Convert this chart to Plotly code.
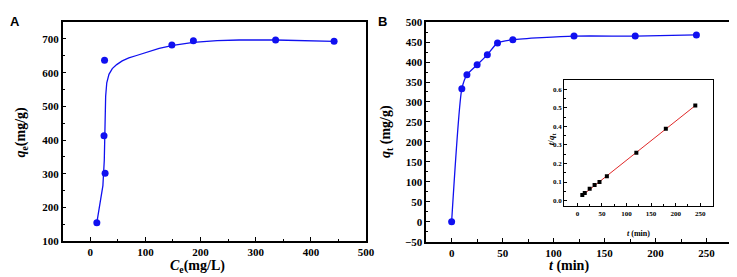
import plotly.graph_objects as go

W, H = 737, 277

# Panel A: adsorption isotherm
ce_points = [12, 25, 27, 26, 148, 187, 336, 442]
qe_points = [155, 413, 302, 637, 682, 695, 697, 693]
ce_fit = [12, 18, 23, 25.5, 26.5, 27, 28, 30, 34, 40, 48, 58, 70, 84, 100, 125, 150, 187, 230, 270, 336, 400, 442]
qe_fit = [155, 215, 265, 340, 420, 480, 530, 570, 595, 612, 624, 635, 644, 651, 660, 672, 681, 690, 695, 697, 697, 695, 693]

# Panel B: kinetics
t_min = [0, 10, 15, 25, 35, 45, 60, 120, 180, 240]
qt_vals = [0, 333, 368, 393, 418, 448, 456, 465, 465, 468]

# Inset: pseudo-second-order plot
t_inset = [10, 15, 25, 35, 45, 60, 120, 180, 240]
tq_vals = [0.030, 0.041, 0.064, 0.084, 0.100, 0.131, 0.258, 0.387, 0.513]
t_line = [10, 240]
tq_line = [0.028, 0.512]

BLUE = "#1010f0"
SERIF = "Liberation Serif"
tickfont = dict(family=SERIF, size=11, color="black", weight="bold")
small_tickfont = dict(family=SERIF, size=7, color="black", weight="bold")

def px(x):
    return x / W

def py(y):
    return 1 - y / H

fig = go.Figure()

fig.add_trace(go.Scatter(x=ce_fit, y=qe_fit, mode="lines", line=dict(color=BLUE, width=1.3),
                         xaxis="x", yaxis="y", showlegend=False, hoverinfo="skip"))
fig.add_trace(go.Scatter(x=ce_points, y=qe_points, mode="markers", marker=dict(color=BLUE, size=7),
                         xaxis="x", yaxis="y", showlegend=False))

fig.add_trace(go.Scatter(x=t_min, y=qt_vals, mode="lines+markers", line=dict(color=BLUE, width=1.3, shape="spline", smoothing=0.6),
                         marker=dict(color=BLUE, size=7), xaxis="x2", yaxis="y2", showlegend=False))

fig.add_trace(go.Scatter(x=t_line, y=tq_line, mode="lines", line=dict(color="#e02828", width=1),
                         xaxis="x3", yaxis="y3", showlegend=False))
fig.add_trace(go.Scatter(x=t_inset, y=tq_vals, mode="markers", marker=dict(color="black", size=4, symbol="square"),
                         xaxis="x3", yaxis="y3", showlegend=False))

def axis(domain, rng, dtick, mdtick, font, anchor, ticklen=4, mlen=2.5, tick0=0, fmt=None):
    d = dict(domain=domain, range=rng, dtick=dtick, tick0=tick0, showgrid=False, zeroline=False,
             showline=True, mirror=True, linecolor="black", linewidth=1.5,
             ticks="inside", ticklen=ticklen, tickwidth=1.2, tickcolor="black",
             tickfont=font, anchor=anchor, fixedrange=True,
             tickprefix="<b>", ticksuffix="</b>",
             minor=dict(dtick=mdtick, tick0=tick0, ticks="inside", ticklen=mlen, tickwidth=1, tickcolor="black", showgrid=False))
    if fmt:
        d["tickformat"] = fmt
    return d

fig.update_layout(
    width=W, height=H, margin=dict(l=0, r=0, t=0, b=0),
    paper_bgcolor="white", plot_bgcolor="white",
    xaxis=axis([px(55.3), px(362.5)], [-50, 500], 100, 50, tickfont, "y"),
    yaxis=axis([py(237.5), py(8.5)], [100, 750], 100, 50, tickfont, "x"),
    xaxis2=axis([px(423.3), px(731)], [-25, 273], 50, 25, tickfont, "y2"),
    yaxis2=axis([py(238), py(8.5)], [-50, 500], 50, 25, tickfont, "x2", tick0=0),
    xaxis3=axis([px(563), px(713.7)], [-27, 276], 50, 25, small_tickfont, "y3", ticklen=3, mlen=2),
    yaxis3=axis([py(201), py(69)], [-0.031, 0.65], 0.1, 0.05, small_tickfont, "x3", ticklen=3, mlen=2, fmt=".1f"),
)
fig.update_layout(xaxis3=dict(linewidth=1), yaxis3=dict(linewidth=1))

title_font = dict(family=SERIF, size=14, color="black", weight="bold")
ann = [
    dict(x=px(192), y=py(264), text="<b><i>C</i><sub>e</sub>(mg/L)</b>", font=title_font),
    dict(x=px(14), y=py(123), text="<b><i>q</i><sub>e</sub>(mg/g)</b>", font=title_font, textangle=-90),
    dict(x=px(568), y=py(263), text="<b><i>t</i> (min)</b>", font=title_font),
    dict(x=px(383), y=py(123), text="<b><i>q</i><sub>t</sub> (mg/g)</b>", font=title_font, textangle=-90),
    dict(x=px(638.7), y=py(229), text="<b><i>t</i> (min)</b>", font=dict(family=SERIF, size=8, color="black", weight="bold")),
    dict(x=px(550.5), y=py(130), text="<b><i>t</i>/<i>q</i><sub>t</sub></b>", font=dict(family=SERIF, size=9, color="black", weight="bold"), textangle=-90),
    dict(x=px(7), y=py(8), text="<b>A</b>", font=dict(family="Liberation Sans", size=13, color="black", weight="bold")),
    dict(x=px(379), y=py(8), text="<b>B</b>", font=dict(family="Liberation Sans", size=13, color="black", weight="bold")),
]
for a in ann:
    a.update(xref="paper", yref="paper", showarrow=False, xanchor="center", yanchor="middle")
fig.update_layout(annotations=ann)

fig.write_html("out.html")
